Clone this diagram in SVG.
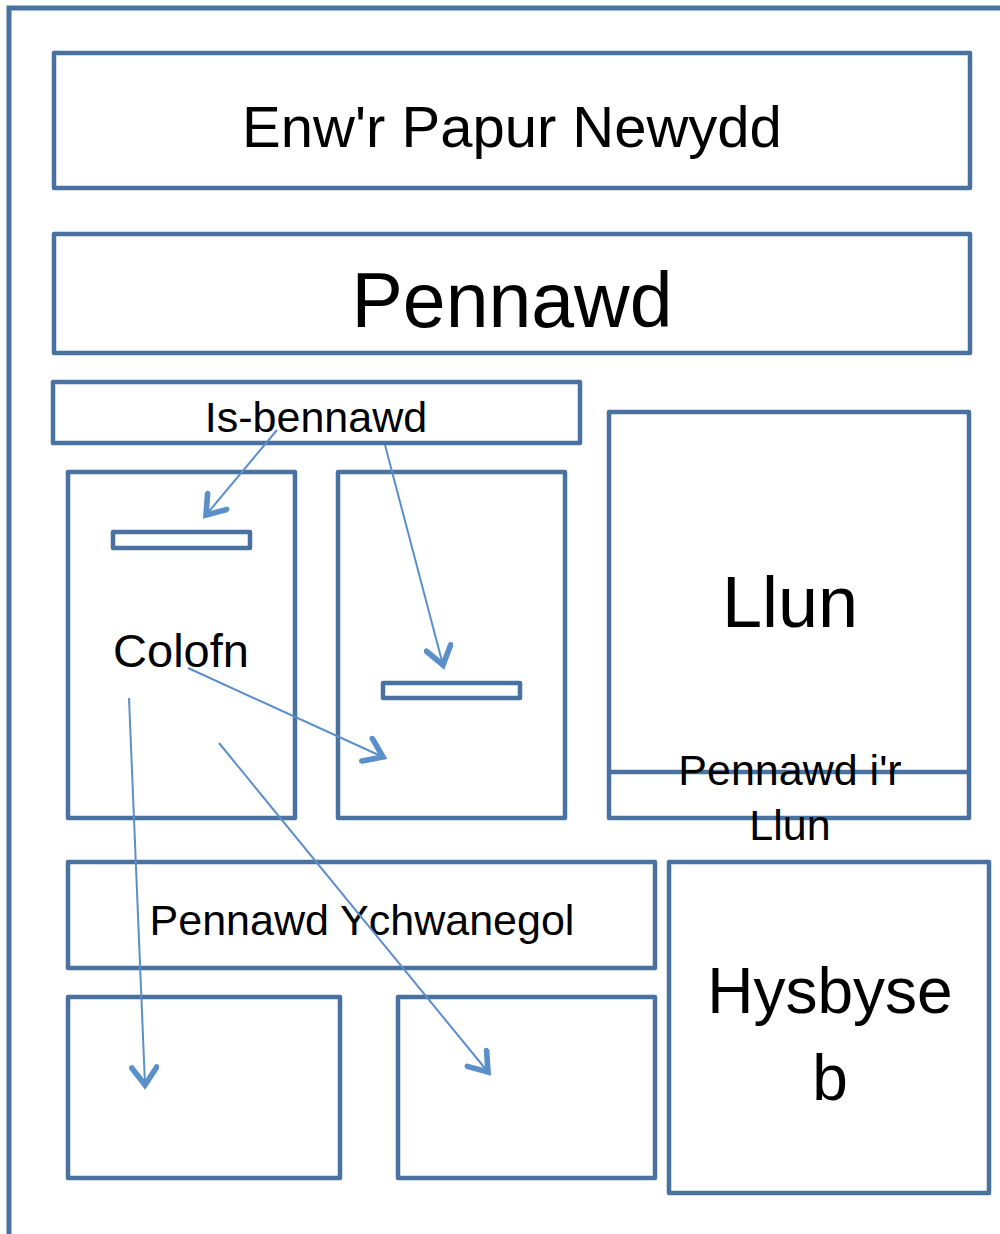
<svg xmlns="http://www.w3.org/2000/svg" width="1000" height="1234" viewBox="0 0 1000 1234">
<style>
.box{fill:#fff;stroke:#4a72a0;stroke-width:4.5;stroke-linejoin:round}
.frame{fill:none;stroke:#4a72a0;stroke-width:5}
.t{font-family:"Liberation Sans",Arial,sans-serif;fill:#000;text-anchor:middle}
.arr{fill:none;stroke:#5b8fc9;stroke-width:2;marker-end:url(#ah)}
</style>
<defs>
<marker id="ah" markerUnits="userSpaceOnUse" markerWidth="30" markerHeight="30" refX="20" refY="12" orient="auto" viewBox="0 0 24 24">
<path d="M6,2 L20,12 L6,22" fill="none" stroke="#5b8fc9" stroke-width="4.5" stroke-linecap="round" stroke-linejoin="miter"/>
</marker>
</defs>
<rect width="1000" height="1234" fill="#fff"/>
<path class="frame" d="M9,1234 V8 H1000"/>
<g id="enw"><rect class="box" x="54" y="53" width="916" height="135"/><text class="t" x="512" y="147" font-size="58">Enw'r Papur Newydd</text></g>
<g id="pennawd"><rect class="box" x="54" y="234" width="916" height="119"/><text class="t" x="512" y="327" font-size="77">Pennawd</text></g>
<g id="isbennawd"><rect class="box" x="53" y="382" width="527" height="61"/><text class="t" x="316" y="432" font-size="43">Is-bennawd</text></g>
<g id="colofn1"><rect class="box" x="68" y="472" width="227" height="346"/><rect class="box" x="113" y="532" width="137" height="16"/><text class="t" x="181" y="667" font-size="47">Colofn</text></g>
<g id="colofn2"><rect class="box" x="338" y="472" width="227" height="346"/><rect class="box" x="383" y="683" width="137" height="15"/></g>
<g id="llun"><rect class="box" x="609" y="412" width="360" height="406"/><line x1="609" y1="772" x2="969" y2="772" stroke="#4a72a0" stroke-width="4.5"/><text class="t" x="790" y="627" font-size="72">Llun</text><text class="t" x="790" y="785" font-size="43">Pennawd i'r</text><text class="t" x="790" y="840" font-size="43">Llun</text></g>
<g id="ychwanegol"><rect class="box" x="68" y="862" width="587" height="106"/><text class="t" x="362" y="935" font-size="43">Pennawd Ychwanegol</text></g>
<g id="bocs1"><rect class="box" x="68" y="997" width="272" height="181"/></g>
<g id="bocs2"><rect class="box" x="398" y="997" width="257" height="181"/></g>
<g id="hysbyseb"><rect class="box" x="669" y="862" width="320" height="331"/><text class="t" x="830" y="1013" font-size="64">Hysbyse</text><text class="t" x="830" y="1100" font-size="64">b</text></g>
<g id="connectors">
<line class="arr" x1="277" y1="430" x2="206" y2="515"/>
<line class="arr" x1="385" y1="445" x2="443" y2="665"/>
<line class="arr" x1="188" y1="668" x2="383" y2="757"/>
<line class="arr" x1="129" y1="698" x2="145" y2="1085"/>
<line class="arr" x1="219" y1="743" x2="488" y2="1072"/>
</g>
</svg>
